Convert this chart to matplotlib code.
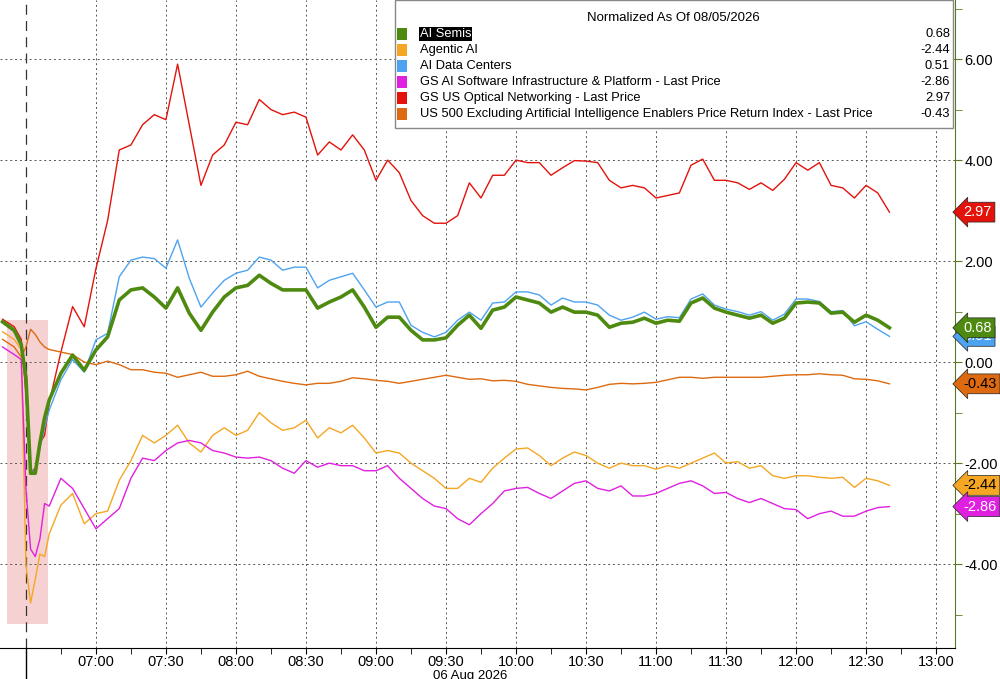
import numpy as np
import matplotlib.pyplot as plt
from matplotlib.patches import Rectangle

plt.rcParams['font.family'] = ['Liberation Sans', 'DejaVu Sans']

# minutes after 06:00 on 06 Aug 2026
t_min = [20, 25, 28, 30, 32, 34, 36, 38, 40] + list(range(45, 405, 5))

ai_semis = [0.8, 0.63, 0.35, -0.3, -2.2, -2.2, -1.6, -1.1, -0.75,
    -0.22, 0.14, -0.16, 0.24, 0.5, 1.23, 1.43, 1.47, 1.29, 1.07, 1.47, 0.97,
    0.63, 0.99, 1.29, 1.47, 1.52, 1.72, 1.56, 1.43, 1.43, 1.43, 1.07, 1.19,
    1.29, 1.43, 1.09, 0.69, 0.89, 0.89, 0.63, 0.44, 0.44, 0.48, 0.73, 0.93,
    0.67, 1.03, 1.09, 1.29, 1.23, 1.17, 0.99, 1.09, 0.99, 0.99, 0.93, 0.69,
    0.77, 0.79, 0.87, 0.77, 0.83, 0.81, 1.17, 1.27, 1.07, 0.99, 0.93, 0.87,
    0.93, 0.77, 0.87, 1.17, 1.19, 1.17, 0.97, 0.99, 0.79, 0.93, 0.83, 0.68]
data_centers = [0.78, 0.6, 0.3, -0.4, -2.1, -2.2, -1.7, -1.3, -0.95,
    -0.35, 0.05, -0.2, 0.44, 0.57, 1.69, 2.02, 2.08, 2.05, 1.86, 2.42, 1.66,
    1.09, 1.37, 1.62, 1.76, 1.82, 2.08, 2.02, 1.82, 1.88, 1.88, 1.47, 1.62,
    1.69, 1.76, 1.43, 1.09, 1.19, 1.19, 0.73, 0.59, 0.5, 0.59, 0.83, 0.99,
    0.83, 1.17, 1.19, 1.39, 1.39, 1.33, 1.13, 1.27, 1.19, 1.19, 1.13, 0.93,
    0.83, 0.89, 0.99, 0.85, 0.9, 0.88, 1.25, 1.35, 1.13, 1.05, 1.0, 0.93,
    1.0, 0.83, 0.95, 1.25, 1.25, 1.2, 1.0, 1.02, 0.72, 0.8, 0.65, 0.51]
optical = [0.85, 0.7, 0.45, -0.6, -2.2, -2.1, -1.6, -1.45, -0.8,
    0.2, 1.1, 0.7, 1.85, 2.8, 4.2, 4.3, 4.7, 4.9, 4.8, 5.9, 4.7,
    3.5, 4.1, 4.3, 4.75, 4.7, 5.2, 5.0, 4.9, 4.95, 4.85, 4.1, 4.36,
    4.2, 4.5, 4.2, 3.6, 4.0, 3.75, 3.2, 2.9, 2.75, 2.75, 2.9, 3.55,
    3.25, 3.7, 3.7, 4.0, 3.95, 3.95, 3.7, 3.85, 3.99, 3.98, 3.95, 3.6,
    3.45, 3.5, 3.45, 3.25, 3.3, 3.35, 3.9, 4.02, 3.6, 3.6, 3.55, 3.42,
    3.55, 3.4, 3.62, 3.95, 3.8, 3.95, 3.5, 3.45, 3.25, 3.5, 3.35, 2.97]
us500_ex_ai = [0.45, 0.3, 0.1, 0.3, 0.65, 0.55, 0.4, 0.3, 0.25,
    0.2, 0.15, 0.0, -0.05, 0.02, -0.05, -0.15, -0.15, -0.2, -0.22, -0.3, -0.25,
    -0.2, -0.28, -0.28, -0.25, -0.18, -0.28, -0.33, -0.38, -0.42, -0.45, -0.42, -0.42,
    -0.38, -0.31, -0.33, -0.36, -0.38, -0.42, -0.38, -0.34, -0.3, -0.26, -0.3, -0.34,
    -0.33, -0.37, -0.36, -0.38, -0.44, -0.47, -0.5, -0.52, -0.53, -0.55, -0.5, -0.44,
    -0.42, -0.43, -0.42, -0.4, -0.35, -0.3, -0.3, -0.32, -0.3, -0.3, -0.3, -0.3,
    -0.3, -0.28, -0.26, -0.25, -0.25, -0.23, -0.25, -0.26, -0.33, -0.34, -0.37, -0.43]
agentic = [0.6, 0.45, 0.25, -4.0, -4.77, -4.3, -3.8, -3.85, -3.4,
    -2.83, -2.6, -3.2, -3.0, -2.95, -2.34, -1.95, -1.45, -1.6, -1.45, -1.25, -1.6,
    -1.78, -1.45, -1.3, -1.45, -1.35, -1.0, -1.2, -1.35, -1.3, -1.15, -1.5, -1.3,
    -1.4, -1.25, -1.5, -1.8, -1.75, -1.8, -2.0, -2.15, -2.3, -2.5, -2.5, -2.3,
    -2.38, -2.1, -1.9, -1.72, -1.7, -1.85, -2.05, -1.9, -1.78, -1.85, -2.0, -2.1,
    -2.0, -2.05, -2.05, -2.12, -2.05, -2.1, -2.0, -1.9, -1.8, -2.0, -1.97, -2.1,
    -2.05, -2.25, -2.3, -2.25, -2.25, -2.28, -2.3, -2.28, -2.48, -2.3, -2.35, -2.44]
gs_software = [0.3, 0.15, 0.05, -2.5, -3.7, -3.85, -3.5, -2.8, -2.85,
    -2.3, -2.5, -2.9, -3.3, -3.1, -2.9, -2.3, -1.9, -1.95, -1.75, -1.6, -1.55,
    -1.6, -1.75, -1.8, -1.88, -1.9, -1.88, -1.95, -2.1, -2.2, -1.95, -2.08, -2.0,
    -2.05, -2.05, -2.15, -2.15, -2.05, -2.3, -2.5, -2.7, -2.85, -2.9, -3.1, -3.22,
    -3.0, -2.8, -2.55, -2.5, -2.48, -2.6, -2.7, -2.55, -2.4, -2.35, -2.5, -2.55,
    -2.45, -2.65, -2.65, -2.6, -2.5, -2.4, -2.35, -2.45, -2.6, -2.58, -2.7, -2.78,
    -2.7, -2.8, -2.9, -2.92, -3.1, -3.0, -2.95, -3.05, -3.05, -2.95, -2.88, -2.86]

names = ['AI Semis', 'Agentic AI', 'AI Data Centers',
         'GS AI Software Infrastructure & Platform - Last Price',
         'GS US Optical Networking - Last Price',
         'US 500 Excluding Artificial Intelligence Enablers Price Return Index - Last Price']
last_vals = ['0.68', '-2.44', '0.51', '-2.86', '2.97', '-0.43']
colors = ['#4f8a10', '#f5a623', '#4da3f0', '#e020e0', '#e3120b', '#dd6a10']

x_ticks = list(range(60, 421, 30))
x_labels = ['07:00', '07:30', '08:00', '08:30', '09:00', '09:30', '10:00',
            '10:30', '11:00', '11:30', '12:00', '12:30', '13:00']

fig = plt.figure(figsize=(10, 6.79), dpi=100)
ax = fig.add_axes([0, 1 - 648 / 679, 0.955, 648 / 679])
ax.set_xlim(18.9, 428.1)
ax.set_ylim(-5.66, 7.17)

# highlighted crash window
ax.add_patch(Rectangle((21.9, -5.19), 17.5, 6.02, color='#f4c2c2', alpha=0.75, lw=0, zorder=1))

series = [optical, us500_ex_ai, agentic, gs_software, data_centers, ai_semis]
order = [4, 5, 1, 3, 2, 0]
for s, i in zip(series, order):
    ax.plot(t_min, s, color=colors[i], lw=2.6 if i == 0 else 1.0, zorder=5 if i == 0 else 3)

ax.axvline(30, color='#333333', lw=0.9, ls=(0, (8, 5)), zorder=2)
ax.plot([30, 30], [-5.66, -6.3], color='black', lw=1, clip_on=False)

ax.set_xticks(x_ticks)
ax.set_xticklabels(x_labels, fontsize=10.5)
ax.set_xticks(list(range(45, 421, 30)), minor=True)
ax.set_yticks(np.arange(-4, 7, 2))
ax.set_yticks(np.arange(-5, 8, 2), minor=True)
ax.grid(True, which='major', ls=(0, (2, 3)), color='#555555', lw=0.7)
ax.yaxis.tick_right()
ax.set_yticklabels(['%.2f' % v for v in np.arange(-4, 7, 2)], fontsize=10.5)
ax.tick_params(axis='y', which='both', color='#5a7a1e', length=5, direction='out', pad=2)
ax.tick_params(axis='x', which='both', length=4, pad=1)
for side in ['top', 'left']:
    ax.spines[side].set_visible(False)
ax.spines['right'].set_color('#5a7a1e')
fig.text(0.47, -0.004, '06 Aug 2026', fontsize=9.5, ha='center', va='bottom')

# last value tags on the right axis
tag_text = {'0.68': 'white', '-2.44': 'black', '0.51': 'white', '-2.86': 'white',
            '2.97': 'white', '-0.43': 'black'}
for i in [2, 0, 4, 5, 1, 3]:
    v = float(last_vals[i])
    ax.text(1.009, v, last_vals[i], transform=ax.get_yaxis_transform(), fontsize=10.5,
            color=tag_text[last_vals[i]], va='center', ha='left', clip_on=False,
            bbox=dict(boxstyle='larrow,pad=0.2', fc=colors[i], ec='#222222', lw=0.5))

# legend panel
lx0, ly0 = 395 / 1000, 1 - 128 / 679
fig.patches.append(Rectangle((lx0, ly0), 558 / 1000, 128 / 679, transform=fig.transFigure,
                             fc='white', ec='#888888', lw=1, zorder=10))
fig.text(673 / 1000, 1 - 18 / 679, 'Normalized As Of 08/05/2026', fontsize=9.5,
         ha='center', va='center', zorder=11)
for k, (n, v, c) in enumerate(zip(names, last_vals, colors)):
    yy = 1 - (34 + 16 * k) / 679
    fig.patches.append(Rectangle((397 / 1000, yy - 6 / 679), 10 / 1000, 12 / 679,
                                 transform=fig.transFigure, fc=c, ec='none', zorder=11))
    kw = dict(fontsize=9.3, va='center', zorder=11)
    if k == 0:
        kw['color'] = 'white'
        kw['bbox'] = dict(fc='black', ec='none', pad=0.5)
    fig.text(420 / 1000, yy, n, ha='left', **kw)
    fig.text(950 / 1000, yy, v, ha='right', fontsize=9.3, va='center', zorder=11)

fig.savefig('out.png', dpi=100)
